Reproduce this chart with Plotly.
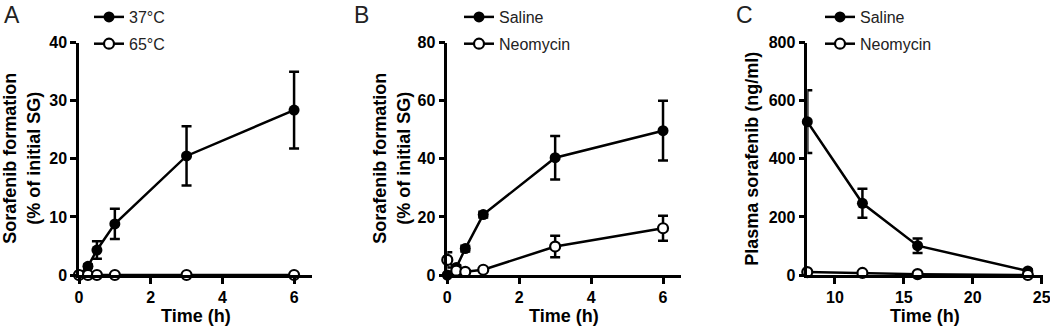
import plotly.graph_objects as go

# ---------------- data ----------------
time_ab = [0, 0.25, 0.5, 1, 3, 6]
a_37 = [0, 1.5, 4.3, 8.8, 20.5, 28.4]
a_37_err = [0, 0.3, 1.5, 2.6, 5.1, 6.6]
a_65 = [0, 0, 0, 0, 0, 0]
a_65_err = [0, 0, 0, 0, 0, 0]

b_saline = [0, 2.6, 9.1, 20.8, 40.4, 49.7]
b_saline_err = [0, 0.8, 1.0, 1.0, 7.5, 10.3]
b_neo = [5.2, 1.5, 1.1, 1.8, 9.8, 16.1]
b_neo_err = [2.6, 0.8, 0.5, 0.5, 3.7, 4.3]

time_c = [8, 12, 16, 24]
c_saline = [528, 247, 101, 14]
c_saline_err = [108, 50, 25, 5]
c_neo = [10, 7, 3, 0]
c_neo_err = [0, 0, 0, 0]

xticks_ab = [0, 2, 4, 6]
xticks_c = [10, 15, 20, 25]
yticks_a = [0, 10, 20, 30, 40]
yticks_b = [0, 20, 40, 60, 80]
yticks_c = [0, 200, 400, 600, 800]

FONT = "Liberation Sans, Arial, sans-serif"
W, H = 1050, 331

def px_x(v):
    return v / W

def px_y(v):
    return 1 - v / H

fig = go.Figure()

def add_series(x, y, err, name, filled, xa, ya, legend, group):
    fig.add_trace(go.Scatter(
        x=x, y=y, name=name, mode="lines+markers",
        xaxis=xa, yaxis=ya, legend=legend, legendgroup=group,
        line=dict(color="black", width=2.5),
        marker=dict(symbol="circle", size=11 if filled else 10,
                    color="black" if filled else "white",
                    line=dict(color="black", width=0 if filled else 2.2)),
        error_y=dict(type="data", array=err, visible=True, color="black",
                     thickness=2.5, width=5),
        cliponaxis=False,
    ))

add_series(time_ab, a_37, a_37_err, "37\u00b0C", True, "x", "y", "legend", "a1")
add_series(time_ab, a_65, a_65_err, "65\u00b0C", False, "x", "y", "legend", "a2")
add_series(time_ab, b_saline, b_saline_err, "Saline", True, "x2", "y2", "legend2", "b1")
add_series(time_ab, b_neo, b_neo_err, "Neomycin", False, "x2", "y2", "legend2", "b2")
add_series(time_c, c_saline, c_saline_err, "Saline", True, "x3", "y3", "legend3", "c1")
add_series(time_c, c_neo, c_neo_err, "Neomycin", False, "x3", "y3", "legend3", "c2")

ydom = [px_y(275), px_y(42.7)]
axis_common = dict(showline=True, linewidth=2.5, linecolor="black", showgrid=False,
                   zeroline=False, ticks="outside", ticklen=6, tickwidth=2.5,
                   tickcolor="black", automargin=False, ticklabeloverflow="allow",
                   tickfont=dict(family=FONT, size=16, color="black", weight="bold"))

def xax(dom, rng, ticks, anchor):
    return dict(axis_common, domain=dom, range=rng, tickvals=ticks, anchor=anchor)

def yax(rng, ticks, anchor):
    return dict(axis_common, domain=ydom, range=rng, tickvals=ticks, anchor=anchor)

dom_a = [px_x(79), px_x(312)]
dom_b = [px_x(447.3), px_x(681)]
dom_c = [px_x(807.3), px_x(1043)]

legend_common = dict(font=dict(family=FONT, size=16, color="#222"), bgcolor="rgba(0,0,0,0)",
                     xanchor="left", yanchor="top", tracegroupgap=3, itemwidth=30)

fig.update_layout(
    width=W, height=H, margin=dict(l=0, r=0, t=0, b=0),
    plot_bgcolor="white", paper_bgcolor="white",
    xaxis=xax(dom_a, [0, 6.5], xticks_ab, "y"),
    yaxis=yax([0, 40], yticks_a, "x"),
    xaxis2=xax(dom_b, [0, 6.5], xticks_ab, "y2"),
    yaxis2=yax([0, 80], yticks_b, "x2"),
    xaxis3=xax(dom_c, [8, 25.1], xticks_c, "y3"),
    yaxis3=yax([0, 800], yticks_c, "x3"),
    legend=dict(legend_common, x=px_x(89), y=px_y(0)),
    legend2=dict(legend_common, x=px_x(459), y=px_y(0)),
    legend3=dict(legend_common, x=px_x(820), y=px_y(0)),
    showlegend=True,
)

title_font = dict(family=FONT, size=18, color="black", weight="bold")
ann = []
# x-axis titles
for dom in (dom_a, dom_b, dom_c):
    ann.append(dict(text="Time (h)", x=(dom[0] + dom[1]) / 2, y=px_y(316), xref="paper", yref="paper",
                    showarrow=False, font=title_font, xanchor="center", yanchor="middle"))
# y-axis titles
ymid = (ydom[0] + ydom[1]) / 2
ann.append(dict(text="Sorafenib formation<br>(% of initial SG)", x=px_x(22), y=ymid, xref="paper",
                yref="paper", showarrow=False, textangle=-90, font=title_font,
                xanchor="center", yanchor="middle"))
ann.append(dict(text="Sorafenib formation<br>(% of initial SG)", x=px_x(392), y=ymid, xref="paper",
                yref="paper", showarrow=False, textangle=-90, font=title_font,
                xanchor="center", yanchor="middle"))
ann.append(dict(text="Plasma sorafenib (ng/ml)", x=px_x(752), y=ymid, xref="paper",
                yref="paper", showarrow=False, textangle=-90, font=title_font,
                xanchor="center", yanchor="middle"))
# panel letters
for letter, xp in (("A", 2), ("B", 352), ("C", 734)):
    ann.append(dict(text=letter, x=px_x(xp), y=px_y(0), xref="paper", yref="paper",
                    showarrow=False, xanchor="left", yanchor="top",
                    font=dict(family=FONT, size=23, color="#222")))
fig.update_layout(annotations=ann)

fig.write_html("out.html", config={"displayModeBar": False},
               post_script="document.body.style.margin='0';")
